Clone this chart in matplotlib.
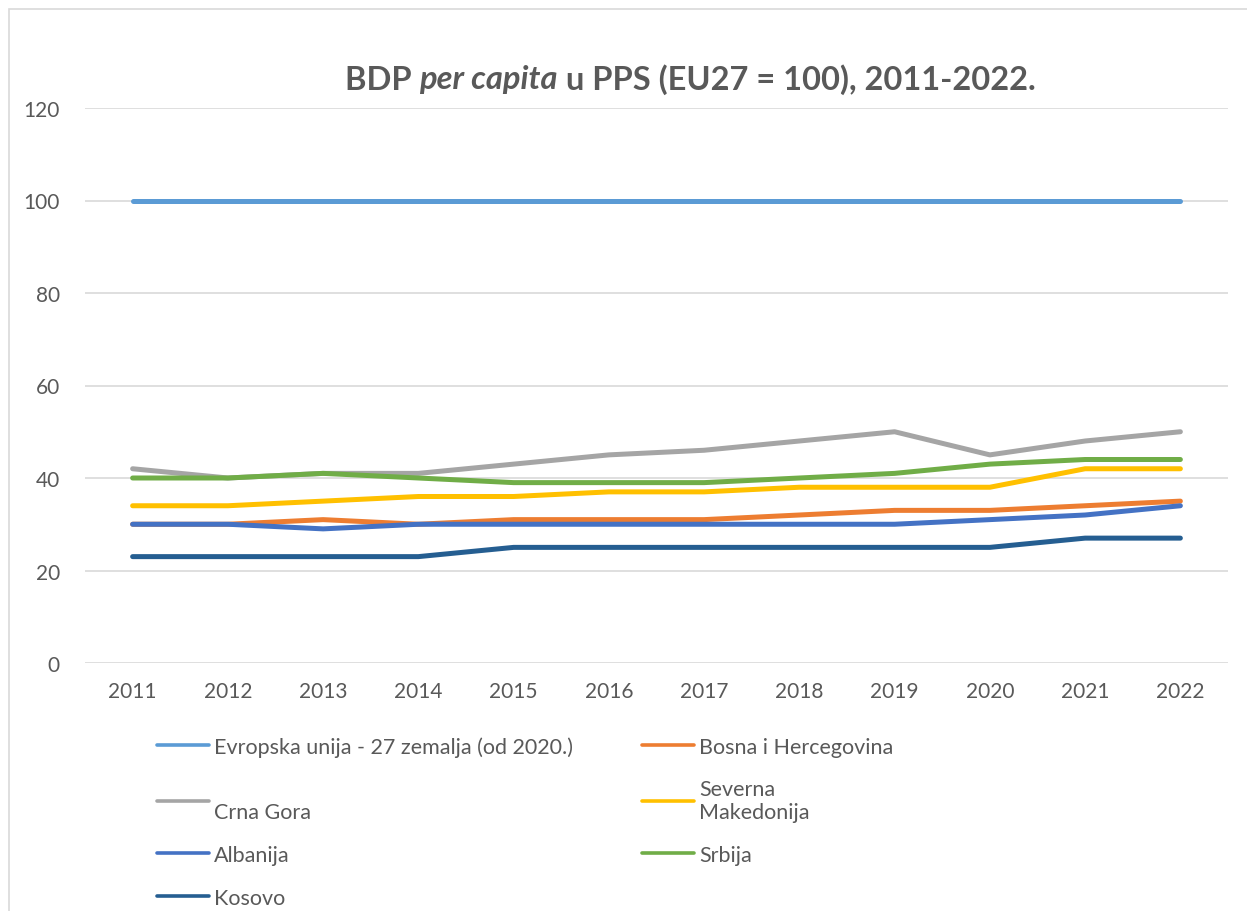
import numpy as np
import matplotlib
matplotlib.use("Agg")
import matplotlib.pyplot as plt
from matplotlib.patches import Rectangle

plt.rcParams['font.family'] = ['Lato', 'DejaVu Sans']

years = [2011, 2012, 2013, 2014, 2015, 2016, 2017, 2018, 2019, 2020, 2021, 2022]
eu = [100, 100, 100, 100, 100, 100, 100, 100, 100, 100, 100, 100]
bih = [30, 30, 31, 30, 31, 31, 31, 32, 33, 33, 34, 35]
cg = [42, 40, 41, 41, 43, 45, 46, 48, 50, 45, 48, 50]
sm = [34, 34, 35, 36, 36, 37, 37, 38, 38, 38, 42, 42]
alb = [30, 30, 29, 30, 30, 30, 30, 30, 30, 31, 32, 34]
srb = [40, 40, 41, 40, 39, 39, 39, 40, 41, 43, 44, 44]
kos = [23, 23, 23, 23, 25, 25, 25, 25, 25, 25, 27, 27]

yticks = [0, 20, 40, 60, 80, 100, 120]
txt = '#595959'

W, H = 1247, 912
fig = plt.figure(figsize=(W / 100, H / 100), dpi=100)
ax = fig.add_axes([85 / W, 1 - 664 / H, (1228 - 85) / W, (664 - 109) / H])

# chart border
fig.patches.append(Rectangle((9 / W, -0.1), 1.2, 1 - 10 / H + 0.1, transform=fig.transFigure,
                             fill=False, edgecolor='#D9D9D9', lw=1.2))

x = np.arange(len(years))
series = [
    ("Evropska unija - 27 zemalja (od 2020.)", eu, '#5B9BD5'),
    ("Bosna i Hercegovina", bih, '#ED7D31'),
    ("\nCrna Gora", cg, '#A5A5A5'),
    ("Severna\nMakedonija", sm, '#FFC000'),
    ("Albanija", alb, '#4472C4'),
    ("Srbija", srb, '#70AD47'),
    ("Kosovo", kos, '#255E91'),
]
handles = {}
for lab, vals, col in series:
    h, = ax.plot(x, vals, color=col, lw=3.6, solid_capstyle='round', solid_joinstyle='round', label=lab)
    handles[lab] = h

ax.set_xlim(-0.5, len(years) - 0.5)
ax.set_ylim(0, 120)
ax.set_yticks(yticks)
ax.set_xticks(x)
ax.set_xticklabels([str(y) for y in years])
ax.grid(axis='y', color='#D9D9D9', lw=1.2)
ax.set_axisbelow(True)
for s in ax.spines.values():
    s.set_visible(False)
ax.tick_params(axis='both', length=0, labelsize=15, colors=txt)
ax.tick_params(axis='y', pad=18)
ax.tick_params(axis='x', pad=13)

# legend, row-wise order like the original
order = [0, 2, 4, 6, 1, 3, 5]
hs = [handles[series[i][0]] for i in order]
ls = [series[i][0] for i in order]
leg = ax.legend(hs, ls, ncol=2, loc='upper left', bbox_to_anchor=(157 / W, 1 - 737 / H),
                bbox_transform=fig.transFigure, frameon=False, fontsize=15.5, labelcolor=txt,
                handlelength=2.4, handletextpad=0.25, columnspacing=3.2, labelspacing=1.05,
                borderpad=0, borderaxespad=0)
for l in leg.get_lines():
    l.set_linewidth(2.6)

# title with italic part
fig.canvas.draw()
r = fig.canvas.get_renderer()
parts = [("BDP ", 'normal'), ("per capita", 'italic'), (" u PPS (EU27 = 100), 2011-2022.", 'normal')]
objs = []
for s, st in parts:
    t = fig.text(0, 1 - 80 / H, s, fontsize=23.5, fontweight='bold', style=st, color=txt, va='center', ha='left')
    objs.append(t)
widths = [t.get_window_extent(r).width for t in objs]
xpos = 690 - sum(widths) / 2
for t, w in zip(objs, widths):
    t.set_x(xpos / W)
    xpos += w

fig.savefig('out.png', dpi=100)
